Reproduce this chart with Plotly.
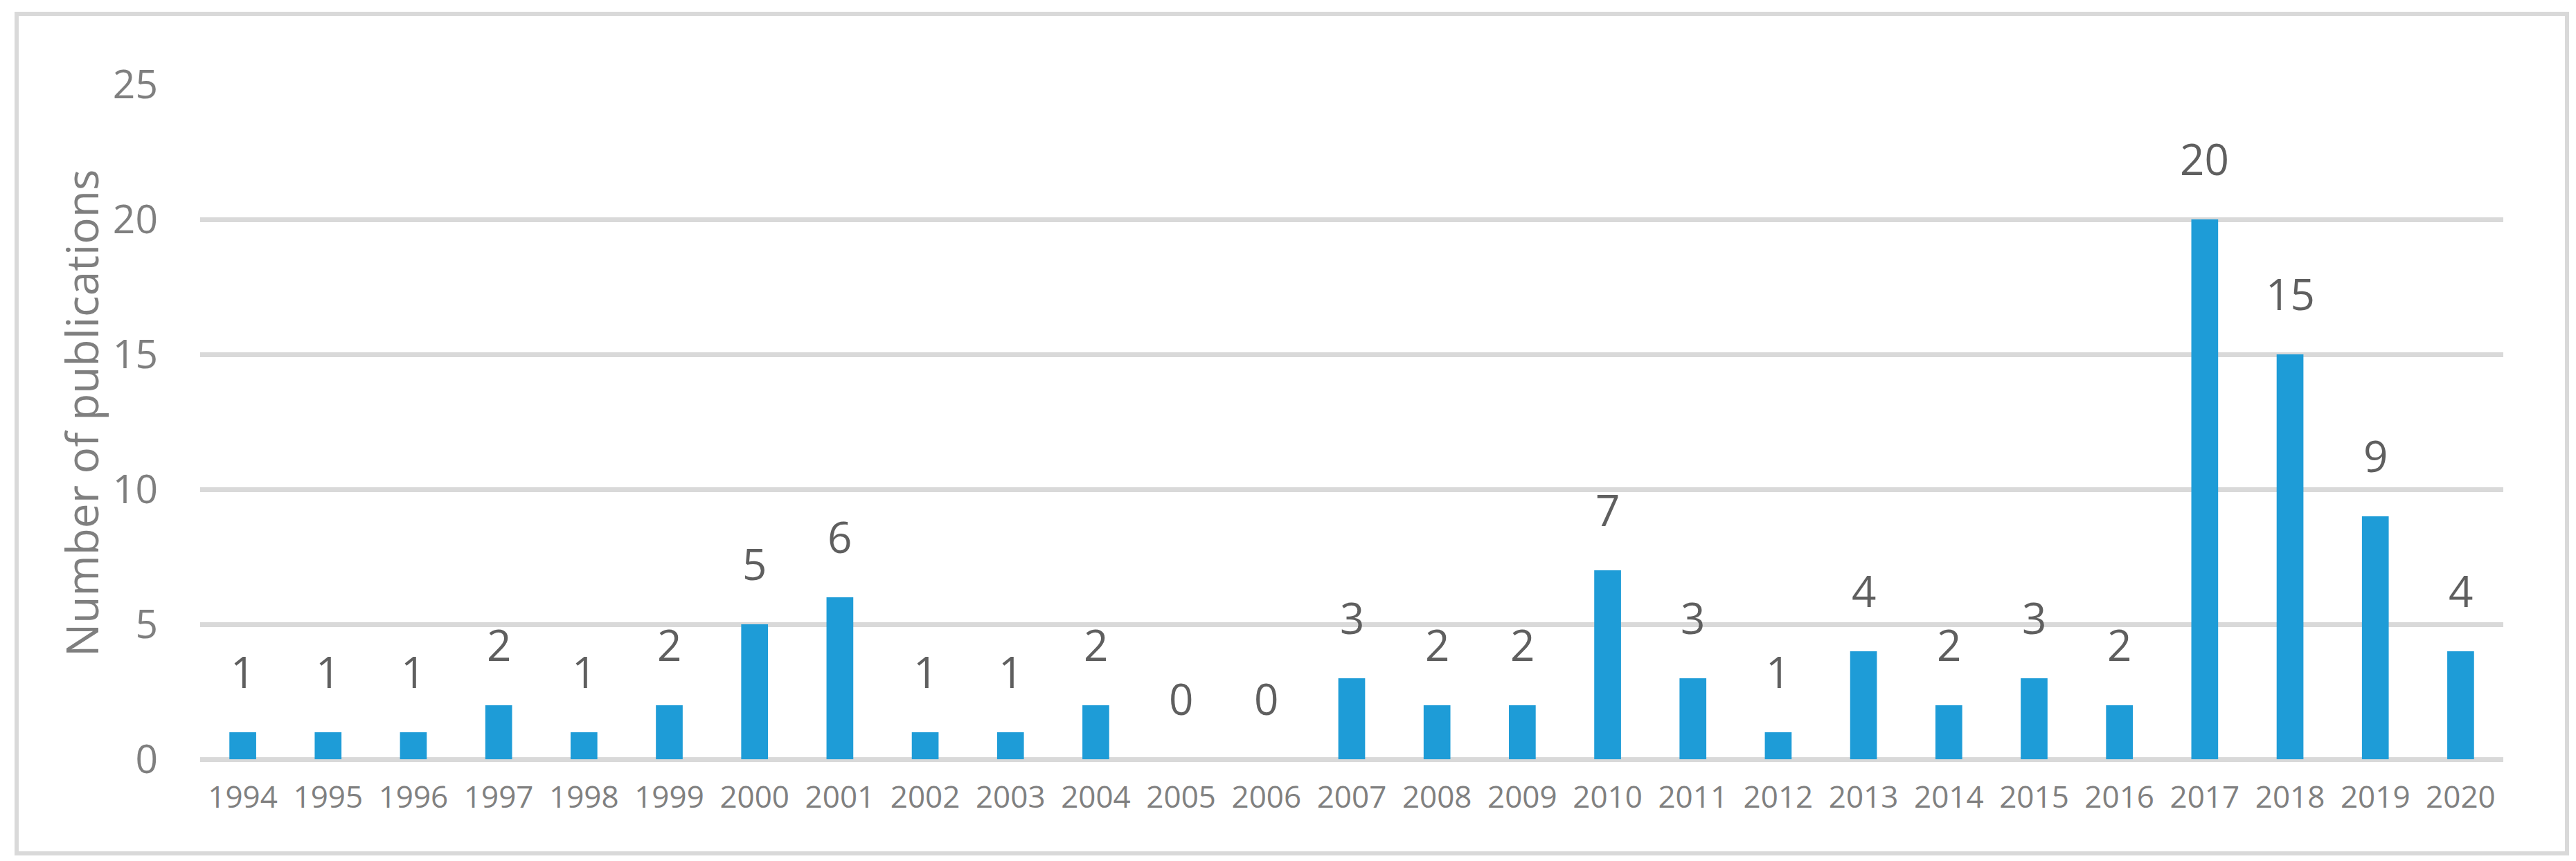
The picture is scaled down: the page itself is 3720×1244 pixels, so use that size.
import plotly.graph_objects as go

years = list(range(1994, 2021))
counts = [1, 1, 1, 2, 1, 2, 5, 6, 1, 1, 2, 0, 0, 3, 2, 2, 7, 3, 1, 4, 2, 3, 2, 20, 15, 9, 4]
y_ticks = [0, 5, 10, 15, 20, 25]
y_title = "Number of publications"

W, H = 3720, 1244
L, R, T, B = 281, 3607, 114, 1089  # plot area pixel box
pw, ph = R - L, B - T

def px_to_paper_x(px):
    return (px - L) / pw

def px_to_paper_y(py):
    return (B - py) / ph

FONT = "Open Sans"
BAR = "#1E9CD7"
GRID = "#D9D9D9"

fig = go.Figure()
fig.add_trace(go.Bar(
    x=years, y=counts,
    marker=dict(color=BAR, line=dict(width=0)),
    hoverinfo="skip",
))

for yr, c in zip(years, counts):
    fig.add_annotation(
        x=yr, y=c, xref="x", yref="y",
        text=str(c), showarrow=False,
        yanchor="middle", xanchor="center", yshift=88,
        font=dict(family=FONT, size=62, color="#5F5F5F"),
    )

fig.add_annotation(
    xref="paper", yref="paper",
    x=px_to_paper_x(109), y=px_to_paper_y(589),
    text=y_title, textangle=-90, showarrow=False,
    xanchor="center", yanchor="middle",
    font=dict(family=FONT, size=64, color="#7F7F7F"),
)

fig.add_shape(
    type="rect", xref="paper", yref="paper",
    x0=px_to_paper_x(16), x1=px_to_paper_x(3699),
    y0=px_to_paper_y(1225), y1=px_to_paper_y(12),
    line=dict(color=GRID, width=6), fillcolor="rgba(0,0,0,0)",
    layer="below",
)

fig.update_layout(
    width=W, height=H,
    margin=dict(l=L, r=W - R, t=T, b=H - B, pad=0),
    paper_bgcolor="white", plot_bgcolor="white",
    showlegend=False,
    bargap=0.686,
    font=dict(family=FONT),
)
fig.update_xaxes(
    range=[years[0] - 0.5, years[-1] + 0.5],
    tickvals=years, ticktext=[str(y) for y in years],
    showgrid=False, showline=False, zeroline=False, ticks="",
    tickfont=dict(family=FONT, size=44, color="#808080"),
    ticklabelstandoff=25,
)
fig.update_yaxes(
    range=[0, 25], tickvals=y_ticks,
    showgrid=True, gridcolor=GRID, gridwidth=7,
    zeroline=True, zerolinecolor=GRID, zerolinewidth=7,
    showline=False, ticks="",
    tickfont=dict(family=FONT, size=57, color="#7F7F7F"),
    ticklabelstandoff=60,
)

fig.write_html("out.html")
